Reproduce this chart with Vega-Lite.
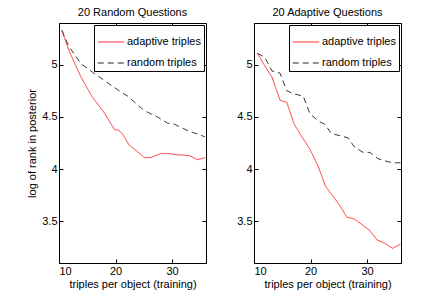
{
  "$schema": "https://vega.github.io/schema/vega-lite/v6.json",
  "background": "white",
  "padding": {"left": 26, "top": 6, "right": 5, "bottom": 5},
  "config": {
    "font": "Liberation Sans",
    "view": {"stroke": "black", "strokeWidth": 1},
    "title": {"fontSize": 11, "fontWeight": "normal", "offset": 5, "color": "black"},
    "axis": {"grid": false, "domainColor": "black", "tickColor": "black", "labelColor": "black", "titleColor": "black", "labelFontSize": 11, "titleFontSize": 11, "titleFontWeight": "normal", "tickSize": -4, "labelPadding": 6},
    "axisY": {"format": "~g"}
  },
  "datasets": {
    "d": [
      {"panel": "R", "series": "adaptive triples", "x": 10.5, "y": 5.33},
      {"panel": "R", "series": "adaptive triples", "x": 11.8, "y": 5.13},
      {"panel": "R", "series": "adaptive triples", "x": 13.9, "y": 4.88},
      {"panel": "R", "series": "adaptive triples", "x": 15.9, "y": 4.69},
      {"panel": "R", "series": "adaptive triples", "x": 18.0, "y": 4.54},
      {"panel": "R", "series": "adaptive triples", "x": 19.8, "y": 4.38},
      {"panel": "R", "series": "adaptive triples", "x": 20.6, "y": 4.37},
      {"panel": "R", "series": "adaptive triples", "x": 21.2, "y": 4.34},
      {"panel": "R", "series": "adaptive triples", "x": 22.4, "y": 4.23},
      {"panel": "R", "series": "adaptive triples", "x": 23.6, "y": 4.18},
      {"panel": "R", "series": "adaptive triples", "x": 25.1, "y": 4.11},
      {"panel": "R", "series": "adaptive triples", "x": 26.2, "y": 4.11},
      {"panel": "R", "series": "adaptive triples", "x": 28.0, "y": 4.15},
      {"panel": "R", "series": "adaptive triples", "x": 29.2, "y": 4.15},
      {"panel": "R", "series": "adaptive triples", "x": 30.4, "y": 4.14},
      {"panel": "R", "series": "adaptive triples", "x": 33.0, "y": 4.13},
      {"panel": "R", "series": "adaptive triples", "x": 34.5, "y": 4.09},
      {"panel": "R", "series": "adaptive triples", "x": 35.8, "y": 4.11},
      {"panel": "R", "series": "random triples", "x": 10.5, "y": 5.33},
      {"panel": "R", "series": "random triples", "x": 11.8, "y": 5.17},
      {"panel": "R", "series": "random triples", "x": 13.9, "y": 5.01},
      {"panel": "R", "series": "random triples", "x": 15.9, "y": 4.93},
      {"panel": "R", "series": "random triples", "x": 18.0, "y": 4.85},
      {"panel": "R", "series": "random triples", "x": 20.1, "y": 4.77},
      {"panel": "R", "series": "random triples", "x": 22.1, "y": 4.70},
      {"panel": "R", "series": "random triples", "x": 25.1, "y": 4.56},
      {"panel": "R", "series": "random triples", "x": 27.4, "y": 4.50},
      {"panel": "R", "series": "random triples", "x": 29.2, "y": 4.44},
      {"panel": "R", "series": "random triples", "x": 30.4, "y": 4.43},
      {"panel": "R", "series": "random triples", "x": 32.7, "y": 4.37},
      {"panel": "R", "series": "random triples", "x": 35.8, "y": 4.31},
      {"panel": "A", "series": "adaptive triples", "x": 10.6, "y": 5.11},
      {"panel": "A", "series": "adaptive triples", "x": 11.9, "y": 4.99},
      {"panel": "A", "series": "adaptive triples", "x": 13.2, "y": 4.88},
      {"panel": "A", "series": "adaptive triples", "x": 14.6, "y": 4.66},
      {"panel": "A", "series": "adaptive triples", "x": 15.8, "y": 4.64},
      {"panel": "A", "series": "adaptive triples", "x": 17.1, "y": 4.43},
      {"panel": "A", "series": "adaptive triples", "x": 18.7, "y": 4.29},
      {"panel": "A", "series": "adaptive triples", "x": 19.9, "y": 4.19},
      {"panel": "A", "series": "adaptive triples", "x": 21.4, "y": 4.02},
      {"panel": "A", "series": "adaptive triples", "x": 22.6, "y": 3.84},
      {"panel": "A", "series": "adaptive triples", "x": 23.7, "y": 3.76},
      {"panel": "A", "series": "adaptive triples", "x": 25.2, "y": 3.65},
      {"panel": "A", "series": "adaptive triples", "x": 26.4, "y": 3.54},
      {"panel": "A", "series": "adaptive triples", "x": 27.8, "y": 3.52},
      {"panel": "A", "series": "adaptive triples", "x": 29.3, "y": 3.46},
      {"panel": "A", "series": "adaptive triples", "x": 30.5, "y": 3.41},
      {"panel": "A", "series": "adaptive triples", "x": 31.8, "y": 3.32},
      {"panel": "A", "series": "adaptive triples", "x": 33.1, "y": 3.29},
      {"panel": "A", "series": "adaptive triples", "x": 34.5, "y": 3.24},
      {"panel": "A", "series": "adaptive triples", "x": 35.9, "y": 3.28},
      {"panel": "A", "series": "random triples", "x": 10.6, "y": 5.11},
      {"panel": "A", "series": "random triples", "x": 11.9, "y": 5.07},
      {"panel": "A", "series": "random triples", "x": 13.2, "y": 4.94},
      {"panel": "A", "series": "random triples", "x": 14.6, "y": 4.92},
      {"panel": "A", "series": "random triples", "x": 15.8, "y": 4.75},
      {"panel": "A", "series": "random triples", "x": 17.1, "y": 4.72},
      {"panel": "A", "series": "random triples", "x": 18.7, "y": 4.70},
      {"panel": "A", "series": "random triples", "x": 19.9, "y": 4.53},
      {"panel": "A", "series": "random triples", "x": 21.4, "y": 4.46},
      {"panel": "A", "series": "random triples", "x": 22.5, "y": 4.43},
      {"panel": "A", "series": "random triples", "x": 23.7, "y": 4.34},
      {"panel": "A", "series": "random triples", "x": 25.2, "y": 4.32},
      {"panel": "A", "series": "random triples", "x": 26.6, "y": 4.30},
      {"panel": "A", "series": "random triples", "x": 27.8, "y": 4.21},
      {"panel": "A", "series": "random triples", "x": 29.3, "y": 4.16},
      {"panel": "A", "series": "random triples", "x": 30.5, "y": 4.16},
      {"panel": "A", "series": "random triples", "x": 31.9, "y": 4.10},
      {"panel": "A", "series": "random triples", "x": 33.1, "y": 4.08},
      {"panel": "A", "series": "random triples", "x": 34.5, "y": 4.06},
      {"panel": "A", "series": "random triples", "x": 35.9, "y": 4.06}
    ]
  },
  "resolve": {"legend": {"color": "independent", "strokeDash": "independent"}},
  "spacing": 28,
  "hconcat": [
    {
      "title": "20 Random Questions",
      "width": 147,
      "height": 240,
      "data": {"name": "d"},
      "transform": [{"filter": "datum.panel === 'R'"}],
      "resolve": {"axis": {"x": "independent", "y": "independent"}},
      "layer": [
        {
          "mark": {"type": "line", "strokeWidth": 0.9},
          "encoding": {
            "x": {"field": "x", "type": "quantitative", "scale": {"domain": [10, 36], "nice": false, "zero": false}, "axis": {"values": [10, 20, 30], "title": "triples per object (training)", "titlePadding": 2}},
            "y": {"field": "y", "type": "quantitative", "scale": {"domain": [3.1, 5.4], "nice": false, "zero": false}, "axis": {"values": [3.5, 4, 4.5, 5], "title": "log of rank in posterior", "titlePadding": 4}},
            "color": {"field": "series", "type": "nominal", "scale": {"domain": ["adaptive triples", "random triples"], "range": ["#ff2020", "#222222"]}, "legend": {"title": null, "orient": "top-right", "offset": 2, "fillColor": "white", "strokeColor": "black", "padding": 3, "rowPadding": 2, "symbolType": "stroke", "symbolSize": 700, "symbolStrokeWidth": 1, "labelOffset": 2, "labelFontSize": 11, "labelColor": "black", "encode": {"legend": {"update": {"stroke": {"value": "black"}, "strokeWidth": {"value": 1}, "fill": {"value": "white"}, "width": {"value": 95}, "height": {"value": 21}}}, "symbols": {"update": {"strokeDash": {"signal": "datum.value === 'random triples' ? [6, 4] : [1, 0]"}}}}}},
            "strokeDash": {"field": "series", "type": "nominal", "scale": {"domain": ["adaptive triples", "random triples"], "range": [[1, 0], [6, 4]]}, "legend": null}
          }
        },
        {
          "mark": {"type": "line", "opacity": 0},
          "encoding": {
            "x": {"field": "x", "type": "quantitative", "axis": {"orient": "top", "values": [10, 20, 30], "labels": false, "title": null}},
            "y": {"field": "y", "type": "quantitative", "axis": {"orient": "right", "values": [3.5, 4, 4.5, 5], "labels": false, "title": null}},
            "detail": {"field": "series"}
          }
        }
      ]
    },
    {
      "title": "20 Adaptive Questions",
      "width": 147,
      "height": 240,
      "data": {"name": "d"},
      "transform": [{"filter": "datum.panel === 'A'"}],
      "resolve": {"axis": {"x": "independent", "y": "independent"}},
      "layer": [
        {
          "mark": {"type": "line", "strokeWidth": 0.9},
          "encoding": {
            "x": {"field": "x", "type": "quantitative", "scale": {"domain": [10, 36], "nice": false, "zero": false}, "axis": {"values": [10, 20, 30], "title": "triples per object (training)", "titlePadding": 2}},
            "y": {"field": "y", "type": "quantitative", "scale": {"domain": [3.1, 5.4], "nice": false, "zero": false}, "axis": {"values": [3.5, 4, 4.5, 5], "title": null}},
            "color": {"field": "series", "type": "nominal", "scale": {"domain": ["adaptive triples", "random triples"], "range": ["#ff2020", "#222222"]}, "legend": {"title": null, "orient": "top-right", "offset": 2, "fillColor": "white", "strokeColor": "black", "padding": 3, "rowPadding": 2, "symbolType": "stroke", "symbolSize": 700, "symbolStrokeWidth": 1, "labelOffset": 2, "labelFontSize": 11, "labelColor": "black", "encode": {"legend": {"update": {"stroke": {"value": "black"}, "strokeWidth": {"value": 1}, "fill": {"value": "white"}, "width": {"value": 95}, "height": {"value": 21}}}, "symbols": {"update": {"strokeDash": {"signal": "datum.value === 'random triples' ? [6, 4] : [1, 0]"}}}}}},
            "strokeDash": {"field": "series", "type": "nominal", "scale": {"domain": ["adaptive triples", "random triples"], "range": [[1, 0], [6, 4]]}, "legend": null}
          }
        },
        {
          "mark": {"type": "line", "opacity": 0},
          "encoding": {
            "x": {"field": "x", "type": "quantitative", "axis": {"orient": "top", "values": [10, 20, 30], "labels": false, "title": null}},
            "y": {"field": "y", "type": "quantitative", "axis": {"orient": "right", "values": [3.5, 4, 4.5, 5], "labels": false, "title": null}},
            "detail": {"field": "series"}
          }
        }
      ]
    }
  ]
}
